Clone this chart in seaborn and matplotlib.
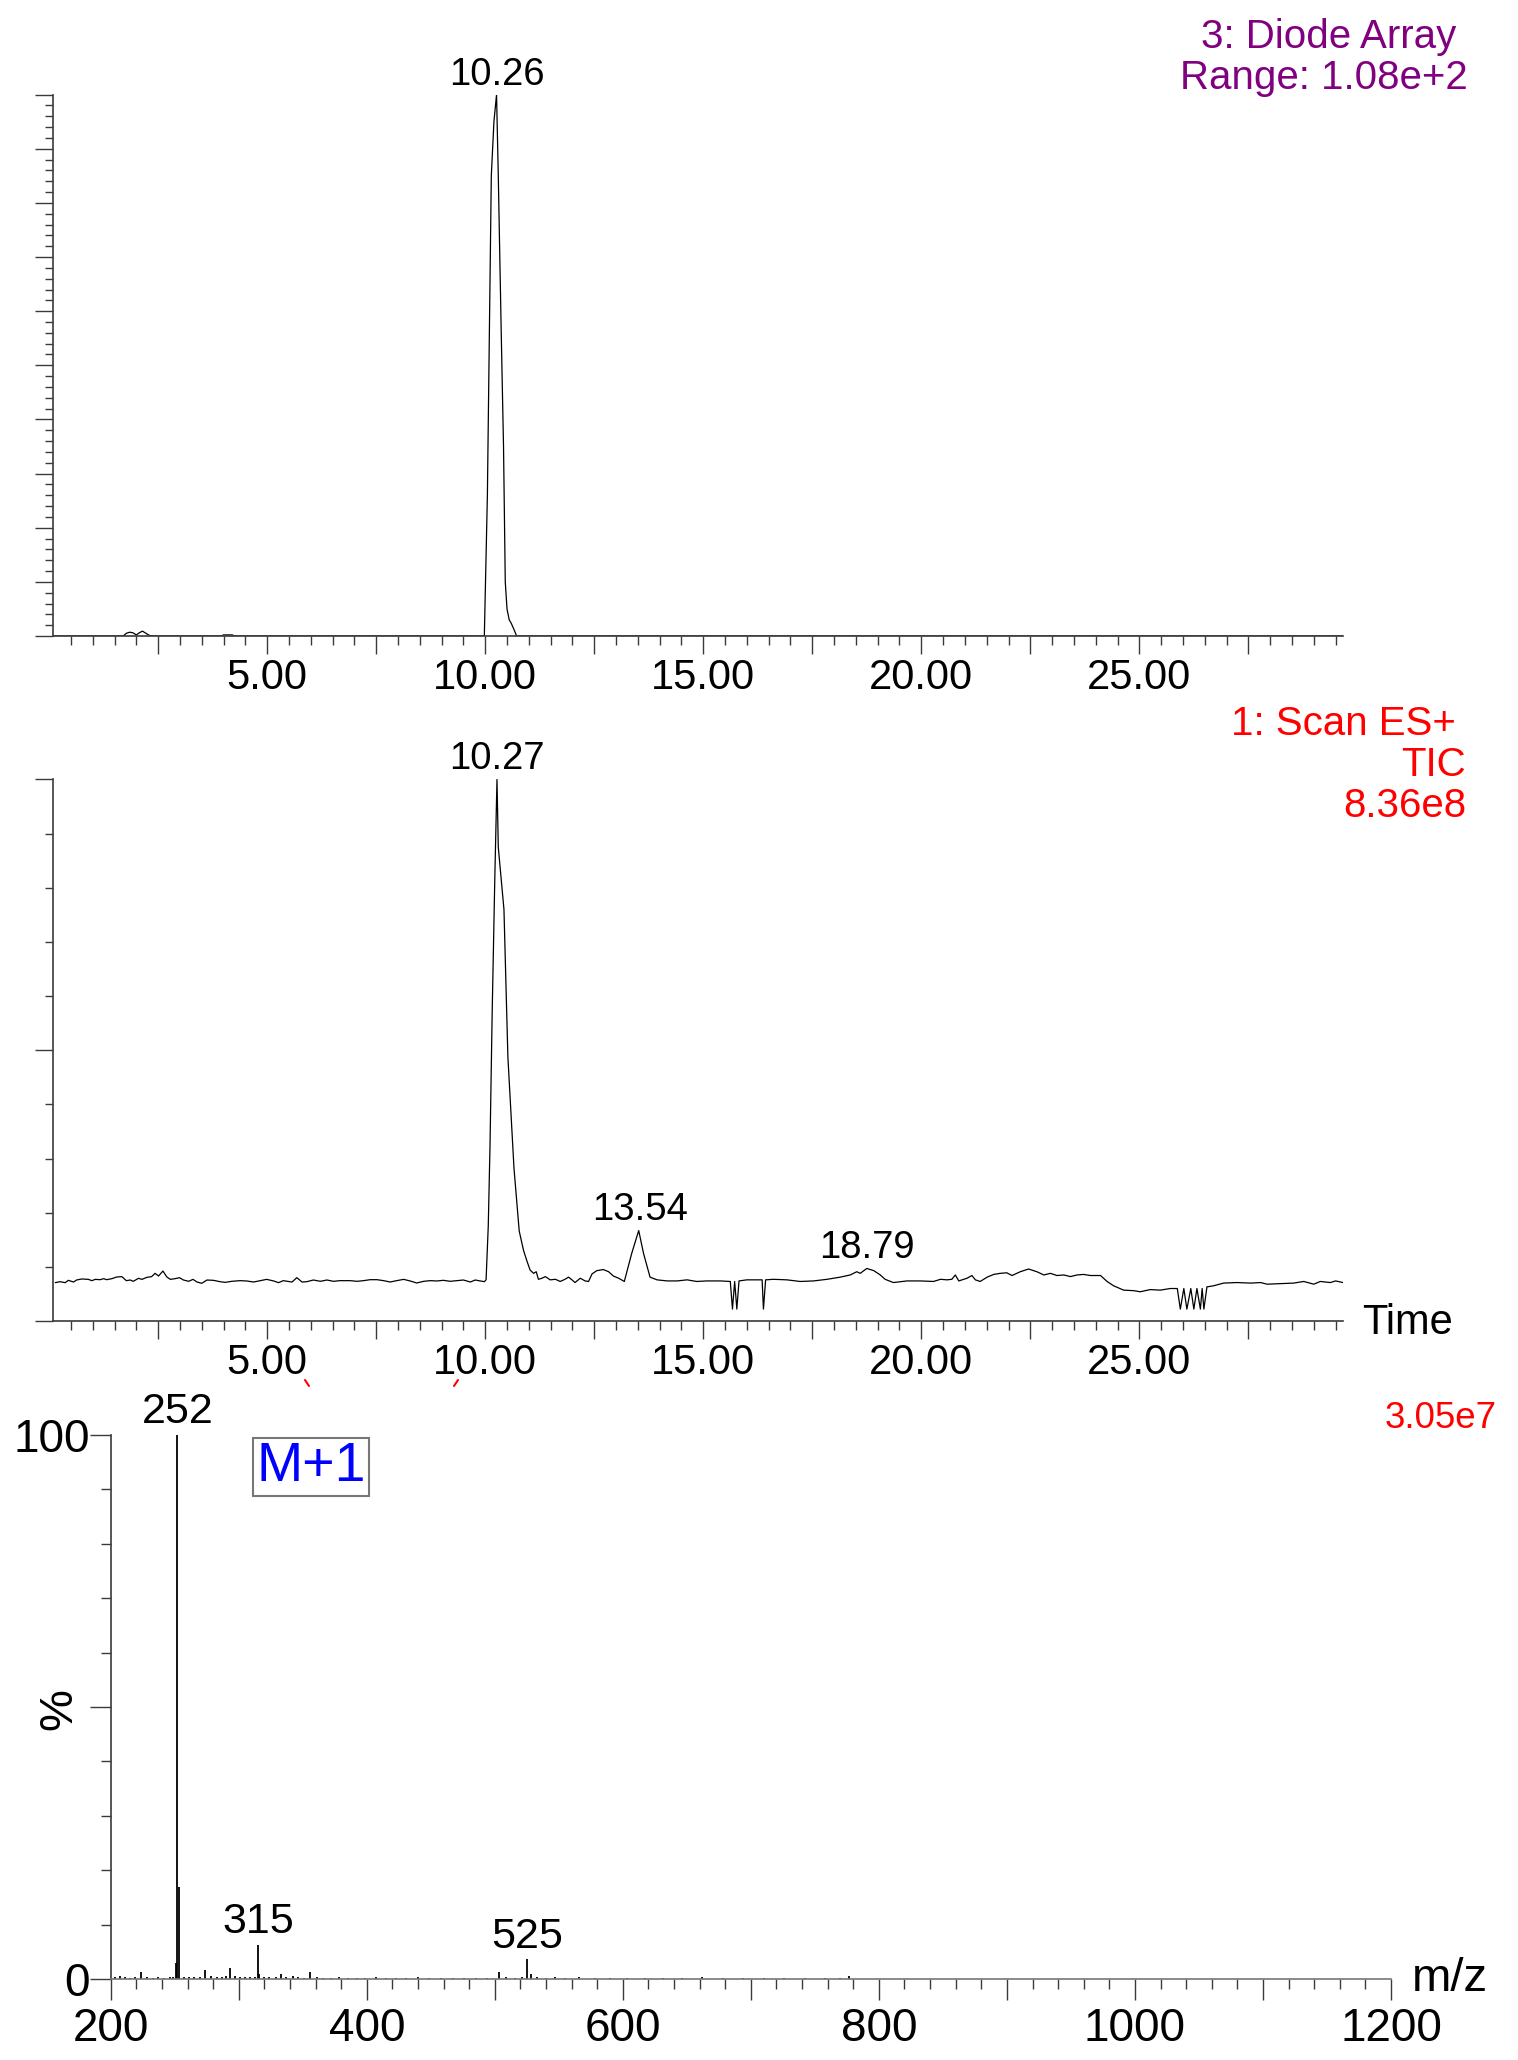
import numpy as np
import pandas as pd
import matplotlib
matplotlib.use("Agg")
import matplotlib.pyplot as plt
from matplotlib.ticker import MultipleLocator, FixedLocator, FuncFormatter, NullFormatter
from matplotlib.lines import Line2D
import seaborn as sns

# ---------------- data ----------------
# Panel 1: Diode array chromatogram (time in min, % of range)
uv_time = [0.08, 1.70, 1.77, 1.85, 1.92, 2.00, 2.07, 2.14, 2.22, 2.30, 2.40, 3.95, 4.00, 4.20, 4.25,
           9.98, 10.05, 10.10, 10.14, 10.20, 10.26, 10.30, 10.33, 10.37, 10.42, 10.46, 10.50,
           10.55, 10.60, 10.66, 10.72, 29.67]
uv_pct = [0, 0, 0.5, 0.7, 0.6, 0.2, 0.6, 0.9, 0.5, 0.1, 0, 0, 0.2, 0.2, 0,
          0, 26, 59, 85, 95, 100, 85, 72, 55, 35, 10, 5,
          3, 2.3, 1.2, 0, 0]

# Panel 2: TIC chromatogram (time in min, %)
tic_time = [0.14, 0.25, 0.37, 0.44, 0.56, 0.63, 0.75, 0.90, 0.98, 1.06, 1.17, 1.25, 1.32, 1.44,
            1.55, 1.67, 1.77, 1.86, 1.93, 2.05, 2.13, 2.24, 2.35, 2.43, 2.51, 2.61, 2.70, 2.78,
            2.89, 2.99, 3.08, 3.20, 3.30, 3.39, 3.50, 3.62, 3.77, 3.92, 4.04, 4.19, 4.38, 4.53,
            4.69, 4.84, 4.99, 5.15, 5.26, 5.37, 5.57, 5.68, 5.80, 5.91, 6.06, 6.22, 6.37, 6.52,
            6.67, 6.90, 7.06, 7.21, 7.36, 7.52, 7.67, 7.82, 7.97, 8.13, 8.28, 8.43, 8.59, 8.74,
            8.89, 9.04, 9.20, 9.35, 9.50, 9.66, 9.77, 9.89, 9.98,
            10.02, 10.07, 10.11, 10.16, 10.22, 10.27, 10.30, 10.43, 10.52, 10.66, 10.78, 10.88,
            10.96, 11.03, 11.11, 11.17, 11.22, 11.30, 11.38, 11.49, 11.61, 11.72, 11.83, 11.91,
            11.99, 12.06, 12.18, 12.29, 12.37, 12.45, 12.56, 12.71, 12.83, 12.94, 13.06, 13.19,
            13.36, 13.52, 13.63, 13.78, 13.94, 14.17, 14.40, 14.63, 14.85, 15.08, 15.39, 15.62,
            15.67, 15.72, 15.77, 15.82, 16.00, 16.35, 16.38, 16.43, 16.61, 16.92, 17.22, 17.53,
            17.84, 18.14, 18.37, 18.52, 18.60, 18.75, 18.91, 19.06, 19.17, 19.36, 19.67, 19.98,
            20.28, 20.44, 20.59, 20.70, 20.78, 20.86, 21.05, 21.16, 21.24, 21.35, 21.51, 21.66,
            21.81, 21.96, 22.08, 22.27, 22.46, 22.65, 22.81, 22.96, 23.11, 23.27, 23.42, 23.57,
            23.72, 23.88, 24.11, 24.26, 24.41, 24.64, 24.87, 25.02, 25.25, 25.48, 25.71, 25.87,
            25.94, 26.02, 26.09, 26.18, 26.25, 26.32, 26.40, 26.44, 26.48, 26.55, 26.70, 26.93,
            27.24, 27.55, 27.78, 27.93, 28.23, 28.54, 28.77, 29.00, 29.15, 29.38, 29.50, 29.67]
tic_pct = [7.08, 7.26, 7.08, 7.51, 7.20, 7.57, 7.76, 7.69, 7.45, 7.69, 7.63, 7.82, 7.63, 7.82,
           8.13, 8.19, 7.45, 7.57, 7.33, 7.88, 7.69, 8.06, 8.19, 8.80, 8.31, 9.23, 8.13, 7.69,
           7.82, 8.00, 7.57, 7.33, 7.69, 7.20, 6.96, 7.57, 7.51, 7.26, 7.14, 7.33, 7.45, 7.39,
           7.20, 7.45, 7.69, 7.39, 7.08, 7.45, 7.20, 8.00, 7.20, 7.26, 7.57, 7.33, 7.57, 7.33,
           7.45, 7.45, 7.33, 7.45, 7.63, 7.63, 7.45, 7.20, 7.45, 7.69, 7.39, 7.02, 7.33, 7.45,
           7.39, 7.51, 7.33, 7.45, 7.57, 7.20, 7.57, 7.39, 7.26,
           7.6, 17.5, 32.3, 57.0, 81.7, 100.0, 87.5, 76.0, 48.8, 28.2, 16.6, 13.0,
           11.0, 9.4, 8.8, 9.1, 7.7, 7.9, 8.2, 7.6, 7.7, 7.3, 7.7, 8.1,
           7.6, 7.1, 7.9, 7.4, 7.3, 8.7, 9.3, 9.5, 9.1, 8.3, 7.9, 7.3,
           12.5, 16.7, 12.5, 8.1, 7.6, 7.4, 7.4, 7.6, 7.3, 7.4, 7.4, 7.3,
           2.2, 7.3, 2.2, 7.4, 7.6, 7.6, 2.2, 7.6, 7.7, 7.6, 7.3, 7.4,
           7.7, 8.1, 8.5, 9.1, 8.8, 9.7, 9.3, 8.5, 7.7, 7.1, 7.4, 7.4,
           7.3, 7.7, 7.6, 7.7, 8.5, 7.4, 7.9, 8.4, 7.6, 7.3, 8.1, 8.6,
           8.8, 8.9, 8.4, 9.1, 9.6, 9.1, 8.5, 8.8, 8.4, 8.5, 8.2, 8.5,
           8.6, 8.4, 8.4, 7.3, 6.5, 5.7, 5.6, 5.4, 5.8, 5.7, 6.0, 6.0,
           2.2, 6.0, 2.2, 6.0, 2.2, 6.0, 2.2, 6.0, 2.2, 6.3, 6.5, 7.0,
           7.1, 7.0, 7.1, 6.8, 6.9, 7.0, 7.3, 6.8, 7.3, 7.1, 7.4, 7.1]

# Panel 3: mass spectrum (m/z, relative %)
ms_mz = [203, 207, 211, 215, 219, 224, 228, 233, 237, 242, 246, 249, 251, 252, 253, 257, 261,
         265, 270, 274, 278, 283, 287, 290, 293, 297, 301, 305, 309, 313, 315, 316, 320, 324,
         329, 333, 337, 342, 346, 351, 356, 361, 366, 372, 378, 385, 392, 399, 407, 415, 423,
         431, 440, 449, 458, 467, 476, 485, 494, 503, 509, 516, 521, 525, 528, 533, 540, 547,
         555, 566, 578, 590, 603, 617, 631, 646, 662, 678, 694, 710, 726, 742, 758, 770, 777]
ms_pct = [0.4, 0.5, 0.3, 0.2, 0.3, 1.2, 0.3, 0.2, 0.3, 0.2, 0.3, 0.4, 3.0, 100, 17, 0.4, 0.3,
          0.3, 0.4, 1.6, 0.5, 0.3, 0.3, 0.6, 2.1, 0.5, 0.3, 0.3, 0.4, 0.3, 6.2, 1.0, 0.3, 0.3,
          0.4, 0.9, 0.3, 0.6, 0.3, 0.2, 1.2, 0.3, 0.2, 0.2, 0.3, 0.2, 0.2, 0.2, 0.3, 0.2, 0.2,
          0.2, 0.3, 0.2, 0.2, 0.2, 0.2, 0.2, 0.2, 1.3, 0.3, 0.2, 0.3, 3.6, 1.0, 0.3, 0.2, 0.3,
          0.2, 0.3, 0.2, 0.2, 0.2, 0.2, 0.2, 0.2, 0.3, 0.2, 0.2, 0.2, 0.2, 0.2, 0.2, 0.2, 0.6]

uv_peak_labels = ["10.26"]
uv_peak_times = [10.26]
tic_peak_labels = ["10.27", "13.54", "18.79"]
tic_peak_times = [10.27, 13.54, 18.75]
tic_peak_heights = [100.0, 16.7, 9.7]
ms_label_mz = [252, 315, 525]
ms_label_pct = [100, 6.2, 3.6]

uv_header = ["3: Diode Array", "Range: 1.08e+2"]
tic_header = ["1: Scan ES+", "TIC", "8.36e8"]
ms_header = "3.05e7"

# ---------------- style ----------------
sns.set_theme(style="white")
plt.rcParams['font.family'] = ['Liberation Sans', 'DejaVu Sans']
AX_COL = '#3a3a3a'
plt.rcParams['axes.edgecolor'] = AX_COL
plt.rcParams['xtick.color'] = AX_COL
plt.rcParams['ytick.color'] = AX_COL
plt.rcParams['xtick.labelcolor'] = 'black'
plt.rcParams['ytick.labelcolor'] = 'black'

W, H = 1518, 2060
fig = plt.figure(figsize=(W / 100, H / 100), dpi=100)
fig.patch.set_facecolor('white')


def fx(px):
    return px / W


def fy(py):
    return 1 - py / H


def chrom_axes(top_px, bottom_px):
    ax = fig.add_axes([fx(52.6), fy(bottom_px), fx(1343 - 52.6), (bottom_px - top_px) / H])
    ax.set_xlim(0.08, 29.67)
    ax.set_ylim(0, 100)
    for s in ['top', 'right']:
        ax.spines[s].set_visible(False)
    for s in ['left', 'bottom']:
        ax.spines[s].set_linewidth(1.2)
        ax.spines[s].set_color(AX_COL)
    ax.xaxis.set_major_locator(MultipleLocator(2.5))
    ax.xaxis.set_minor_locator(MultipleLocator(0.5))
    ax.xaxis.set_major_formatter(FuncFormatter(
        lambda v, p: f"{v:.2f}" if abs(v / 5 - round(v / 5)) < 1e-6 and v > 0 else ""))
    ax.tick_params(axis='x', which='major', direction='out', length=13, width=1.0,
                   labelsize=30, pad=3, bottom=True)
    ax.tick_params(axis='x', which='minor', direction='out', length=6.5, width=1.0, bottom=True)
    ax.tick_params(axis='y', which='both', direction='out', left=True, labelleft=False)
    ax.grid(False)
    ax.patch.set_alpha(0)
    return ax


# ---- Panel 1 ----
ax1 = chrom_axes(94.6, 636)
ax1.yaxis.set_major_locator(MultipleLocator(10))
ax1.yaxis.set_minor_locator(MultipleLocator(2))
ax1.tick_params(axis='y', which='major', length=13, width=1.0)
ax1.tick_params(axis='y', which='minor', length=6, width=1.0)
uv_df = pd.DataFrame({"time": uv_time, "pct": uv_pct})
sns.lineplot(data=uv_df, x="time", y="pct", ax=ax1, color='black', linewidth=0.9,
             sort=False, estimator=None)
ax1.set_xlabel("")
ax1.set_ylabel("")
for lab, t in zip(uv_peak_labels, uv_peak_times):
    ax1.annotate(lab, xy=(t, 100), xytext=(0, 1.5), textcoords='offset points',
                 ha='center', va='bottom', fontsize=27.5, color='black', annotation_clip=False)

fig.text(fx(1456), fy(37), uv_header[0], ha='right', va='center', fontsize=29, color='#800080')
fig.text(fx(1468), fy(78), uv_header[1], ha='right', va='center', fontsize=29, color='#800080')

# ---- Panel 2 ----
ax2 = chrom_axes(779.5, 1321)
ax2.yaxis.set_major_locator(FixedLocator([0, 50, 100]))
ax2.yaxis.set_minor_locator(MultipleLocator(10))
ax2.tick_params(axis='y', which='major', length=13, width=1.0)
ax2.tick_params(axis='y', which='minor', length=6, width=1.0)
tic_df = pd.DataFrame({"time": tic_time, "pct": tic_pct})
sns.lineplot(data=tic_df, x="time", y="pct", ax=ax2, color='black', linewidth=0.9,
             sort=False, estimator=None)
ax2.set_xlabel("")
ax2.set_ylabel("")
for lab, t, h in zip(tic_peak_labels, tic_peak_times, tic_peak_heights):
    ax2.annotate(lab, xy=(t, h), xytext=(0, 1.5), textcoords='offset points',
                 ha='center', va='bottom', fontsize=27.5, color='black', annotation_clip=False)

fig.text(fx(1456), fy(724), tic_header[0], ha='right', va='center', fontsize=29, color='#FF0000')
fig.text(fx(1466), fy(765), tic_header[1], ha='right', va='center', fontsize=29, color='#FF0000')
fig.text(fx(1466), fy(806), tic_header[2], ha='right', va='center', fontsize=29, color='#FF0000')
fig.text(fx(1362), fy(1323), "Time", ha='left', va='center', fontsize=30, color='black')

# small red artifacts below panel 2
fig.add_artist(Line2D([fx(305), fx(309)], [fy(1380), fy(1386)], color='#FF0000', lw=1.5))
fig.add_artist(Line2D([fx(458), fx(454)], [fy(1380), fy(1386)], color='#FF0000', lw=1.5))

# ---- Panel 3 ----
ax3 = fig.add_axes([fx(110.7), fy(1979), fx(1391 - 110.7), (1979 - 1435) / H])
ax3.set_xlim(200, 1200)
ax3.set_ylim(0, 100)
for s in ['top', 'right']:
    ax3.spines[s].set_visible(False)
for s in ['left', 'bottom']:
    ax3.spines[s].set_linewidth(1.2)
    ax3.spines[s].set_color(AX_COL)
ax3.spines['bottom'].set_color('#777777')
ms_df = pd.DataFrame({"mz": ms_mz, "pct": ms_pct})
ax3.vlines(ms_df["mz"], 0, ms_df["pct"], color='black', linewidth=1.3)
ax3.xaxis.set_major_locator(MultipleLocator(100))
ax3.xaxis.set_minor_locator(FixedLocator(list(range(200, 1181, 20))))
ax3.xaxis.set_major_formatter(FuncFormatter(
    lambda v, p: f"{int(round(v))}" if int(round(v)) % 200 == 0 else ""))
ax3.yaxis.set_major_locator(FixedLocator([0, 50, 100]))
ax3.yaxis.set_minor_locator(MultipleLocator(10))
ax3.yaxis.set_major_formatter(FuncFormatter(
    lambda v, p: f"{int(round(v))}" if int(round(v)) in (0, 100) else ""))
ax3.tick_params(axis='x', which='major', direction='out', length=15, width=1.0,
                labelsize=33, pad=5, bottom=True)
ax3.tick_params(axis='x', which='minor', direction='out', length=7.5, width=1.0, bottom=True)
ax3.tick_params(axis='y', which='major', direction='out', length=15, width=1.0,
                labelsize=33, pad=0, left=True)
ax3.tick_params(axis='y', which='minor', direction='out', length=7.5, width=1.0, left=True)
ax3.grid(False)
ax3.patch.set_alpha(0)
ax3.set_xlabel("")
ax3.set_ylabel("")
for m, h in zip(ms_label_mz, ms_label_pct):
    ax3.annotate(str(m), xy=(m, h), xytext=(0, 2), textcoords='offset points',
                 ha='center', va='bottom', fontsize=31, color='black', annotation_clip=False)

fig.text(fx(59), fy(1709), "%", rotation=90, ha='center', va='center', fontsize=34, color='black')
fig.text(fx(1412), fy(1979), "m/z", ha='left', va='center', fontsize=34, color='black')
fig.text(fx(1497), fy(1418), ms_header, ha='right', va='center', fontsize=26.5, color='#FF0000')
fig.text(fx(311), fy(1467), "M+1", ha='center', va='center', fontsize=40, color='#0000FF',
         bbox=dict(boxstyle='square,pad=0.05', facecolor='white', edgecolor='#777777', linewidth=1.5))

fig.savefig("out.png", dpi=100, facecolor='white')
